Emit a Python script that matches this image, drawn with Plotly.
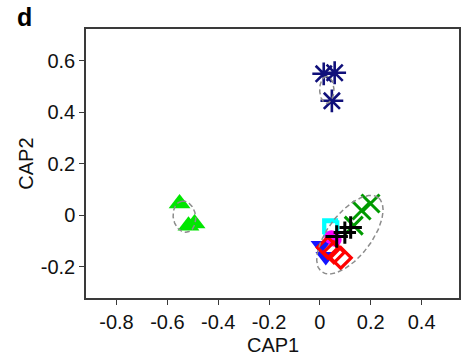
import numpy as np
import plotly.graph_objects as go

# ---- data (CAP1, CAP2) per group ----
star_x = [0.015, 0.058, 0.047]
star_y = [0.550, 0.554, 0.445]

tri_x = [-0.552, -0.517, -0.493]
tri_y = [0.046, -0.040, -0.032]

xg_x = [0.199, 0.164, 0.133]
xg_y = [0.046, 0.019, -0.040]

sq_x = [0.040, 0.045]
sq_y = [-0.042, -0.050]

plus_x = [0.066, 0.098, 0.121]
plus_y = [-0.082, -0.067, -0.047]

circ_x = [0.045, 0.058]
circ_y = [-0.085, -0.095]

dtri_x = [0.004, 0.023]
dtri_y = [-0.117, -0.160]

dia_x = [0.031, 0.055, 0.082]
dia_y = [-0.125, -0.144, -0.165]

# ellipses: centre, semi-axes, rotation (deg)
ell_cx = [0.027, -0.533, 0.118]
ell_cy = [0.488, -0.005, -0.075]
ell_a = [0.052, 0.061, 0.182]
ell_b = [0.028, 0.044, 0.085]
ell_ang = [90, 100, 52]

x_ticks = [-0.8, -0.6, -0.4, -0.2, 0, 0.2, 0.4]
x_ticktext = ["-0.8", "-0.6", "-0.4", "-0.2", "0", "0.2", "0.4"]
y_ticks = [-0.2, 0, 0.2, 0.4, 0.6]
y_ticktext = ["-0.2", "0", "0.2", "0.4", "0.6"]

FONT = "Liberation Sans, Arial, sans-serif"

fig = go.Figure()

def add(xs, ys, symbol, color, size, lw=0):
    marker = dict(symbol=symbol, color=color, size=size, line=dict(width=lw, color=color))
    fig.add_trace(go.Scatter(x=xs, y=ys, mode="markers", marker=marker,
                             showlegend=False, hoverinfo="skip"))

add(star_x, star_y, "asterisk-open", "#10107a", 19, 2.6)
add(tri_x, tri_y, "triangle-up", "#00e600", 19, 0)
add(xg_x, xg_y, "x-thin-open", "#009a00", 18, 3)
add(sq_x, sq_y, "square-open", "#00ffff", 13, 3)
add(dtri_x, dtri_y, "triangle-down", "#1414ff", 18, 0)
add(circ_x, circ_y, "circle", "#ff00ff", 14, 0)
add(dia_x, dia_y, "diamond-open", "#ff0000", 16, 3.2)
add(plus_x, plus_y, "cross-thin-open", "#000000", 16, 3)

t = np.linspace(0, 2 * np.pi, 200)
for cx, cy, a, b, ang in zip(ell_cx, ell_cy, ell_a, ell_b, ell_ang):
    th = np.deg2rad(ang)
    ex = cx + a * np.cos(t) * np.cos(th) - b * np.sin(t) * np.sin(th)
    ey = cy + a * np.cos(t) * np.sin(th) + b * np.sin(t) * np.cos(th)
    fig.add_trace(go.Scatter(x=ex, y=ey, mode="lines",
                             line=dict(color="#8c8c8c", width=1.5, dash="5px,3px"),
                             showlegend=False, hoverinfo="skip"))

axis_common = dict(showgrid=False, zeroline=False, showline=True, mirror=True,
                   linecolor="#3a3a3a", linewidth=1.5, ticks="outside", ticklen=5,
                   tickwidth=1.2, tickcolor="#3a3a3a",
                   tickfont=dict(family=FONT, size=20, color="#111111"))

fig.update_xaxes(range=[-0.92, 0.547], tickvals=x_ticks, ticktext=x_ticktext, **axis_common)
fig.update_yaxes(range=[-0.321, 0.724], tickvals=y_ticks, ticktext=y_ticktext, **axis_common)

fig.add_annotation(text="CAP1", xref="paper", yref="paper", x=0.5, y=-0.175,
                   xanchor="center", yanchor="middle", showarrow=False,
                   font=dict(family=FONT, size=20, color="#111111"))
fig.add_annotation(text="CAP2", xref="paper", yref="paper", x=-0.163, y=0.5,
                   xanchor="center", yanchor="middle", showarrow=False, textangle=-90,
                   font=dict(family=FONT, size=20, color="#111111"))
fig.add_annotation(text="<b>d</b>", xref="paper", yref="paper", x=-0.19, y=1.104,
                   xanchor="left", yanchor="top", showarrow=False,
                   font=dict(family=FONT, size=25, color="#000000"))

fig.update_layout(width=465, height=360, margin=dict(l=86, r=4, t=29, b=62),
                  plot_bgcolor="white", paper_bgcolor="white")

fig.write_html("out.html")
